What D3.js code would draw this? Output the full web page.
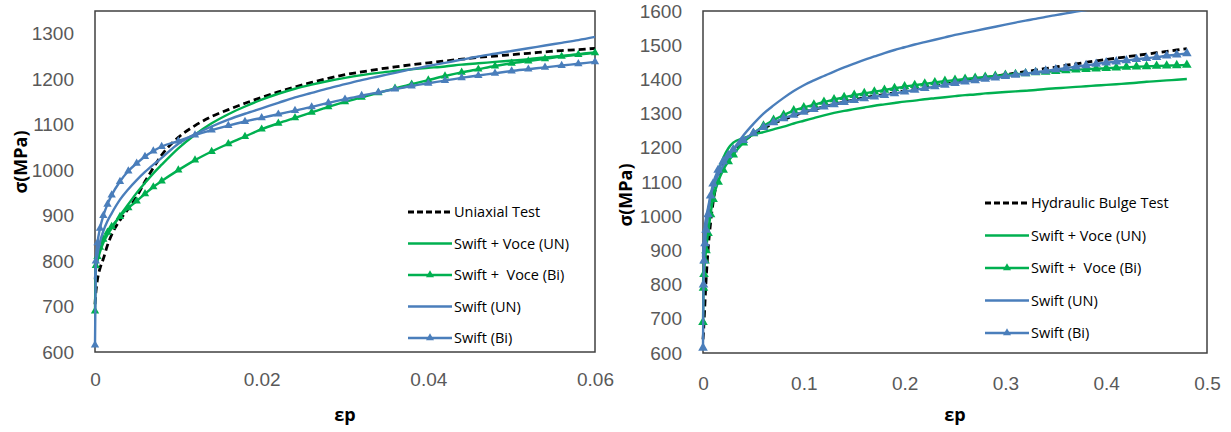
<!DOCTYPE html>
<html>
<head>
<meta charset="utf-8">
<script src="https://cdn.jsdelivr.net/npm/d3@7"></script>
<style>
  body { margin: 0; background: #fff; }
  svg { font-family: 'Open Sans', sans-serif; }
</style>
</head>
<body>
<script>
// ---- left panel: uniaxial test vs fitted laws ----
var epsUni = [0, 0.0001, 0.0003, 0.0006, 0.001, 0.0015, 0.002, 0.003, 0.004, 0.005, 0.006, 0.007, 0.008,
  0.010, 0.012, 0.014, 0.016, 0.018, 0.020, 0.022, 0.024, 0.026, 0.028, 0.030, 0.032, 0.034, 0.036,
  0.038, 0.040, 0.042, 0.044, 0.046, 0.048, 0.050, 0.052, 0.054, 0.056, 0.058, 0.060];
var uniTest = [705, 730, 760, 784, 805, 835, 858, 890, 915, 942, 975, 1005, 1033,
  1072, 1098, 1118, 1133, 1147, 1160, 1172, 1183, 1193, 1202, 1210, 1216, 1222, 1227,
  1232, 1236, 1240, 1244, 1248, 1251, 1254, 1257, 1260, 1263, 1265, 1268];
var uniSwiftVoceUN = [760, 780, 800, 820, 840, 858, 872, 900, 925, 950, 972, 993, 1012,
  1048, 1078, 1103, 1123, 1140, 1155, 1168, 1179, 1188, 1196, 1203, 1209, 1214, 1218,
  1222, 1225, 1228, 1232, 1235, 1238, 1241, 1244, 1248, 1251, 1255, 1259];
var uniSwiftVoceBi = [690, 790, 810, 830, 848, 863, 876, 898, 917, 932, 948, 963, 976,
  1000, 1022, 1041, 1058, 1074, 1090, 1103, 1115, 1127, 1139, 1150, 1160, 1170, 1180,
  1189, 1198, 1207, 1215, 1222, 1229, 1235, 1240, 1245, 1250, 1254, 1258];
var uniSwiftUN = [760, 790, 815, 842, 866, 888, 905, 935, 958, 978, 996, 1012, 1027,
  1058, 1079, 1096, 1111, 1124, 1136, 1148, 1160, 1170, 1180, 1189, 1198, 1206, 1214,
  1222, 1229, 1236, 1243, 1250, 1256, 1262, 1268, 1274, 1280, 1286, 1293];
var uniSwiftBi = [615, 800, 840, 872, 900, 925, 945, 975, 998, 1015, 1030, 1042, 1052,
  1064, 1077, 1088, 1098, 1107, 1115, 1123, 1131, 1139, 1148, 1156, 1164, 1171, 1178,
  1185, 1191, 1197, 1203, 1208, 1213, 1218, 1222, 1226, 1230, 1234, 1238];
var uniTicksX = [0, 0.02, 0.04, 0.06];
var uniTicksY = [600, 700, 800, 900, 1000, 1100, 1200, 1300];
var uniLegend = ['Uniaxial Test', 'Swift + Voce (UN)', 'Swift +  Voce (Bi)', 'Swift (UN)', 'Swift (Bi)'];

// ---- right panel: hydraulic bulge test vs fitted laws ----
var epsBulge = [0, 0.0005, 0.001, 0.002, 0.003, 0.005, 0.0075, 0.01, 0.015, 0.02, 0.025, 0.03,
  0.04, 0.05, 0.06, 0.07, 0.08, 0.09, 0.10, 0.11, 0.12, 0.13, 0.14, 0.15, 0.16, 0.17, 0.18, 0.19,
  0.20, 0.21, 0.22, 0.23, 0.24, 0.25, 0.26, 0.27, 0.28, 0.29, 0.30, 0.31, 0.32, 0.33, 0.34, 0.35,
  0.36, 0.37, 0.38, 0.39, 0.40, 0.41, 0.42, 0.43, 0.44, 0.45, 0.46, 0.47, 0.48];
var bulgeTest = [640, 660, 690, 750, 810, 900, 980, 1040, 1110, 1150, 1172, 1190,
  1218, 1240, 1257, 1271, 1283, 1294, 1304, 1312, 1320, 1327, 1334, 1340, 1346, 1351, 1356, 1361,
  1366, 1371, 1376, 1381, 1386, 1391, 1396, 1400, 1405, 1409, 1414, 1418, 1423, 1427, 1432, 1436,
  1441, 1445, 1450, 1454, 1458, 1462, 1466, 1470, 1474, 1478, 1482, 1486, 1490];
var bulgeSwiftVoceUN = [800, 840, 870, 910, 945, 1000, 1045, 1075, 1130, 1170, 1198, 1215,
  1228, 1238, 1246, 1254, 1262, 1271, 1279, 1287, 1295, 1302, 1308, 1313, 1318, 1323, 1327, 1331,
  1335, 1338, 1342, 1345, 1348, 1351, 1354, 1356, 1359, 1361, 1363, 1365, 1367, 1369, 1372, 1374,
  1376, 1378, 1380, 1382, 1384, 1386, 1388, 1390, 1393, 1395, 1397, 1399, 1401];
var bulgeSwiftVoceBi = [690, 790, 830, 870, 900, 950, 1005, 1050, 1100, 1135, 1160, 1180,
  1215, 1242, 1264, 1281, 1296, 1309, 1318, 1326, 1334, 1341, 1348, 1354, 1359, 1364, 1369, 1374,
  1379, 1383, 1387, 1391, 1395, 1398, 1401, 1404, 1407, 1410, 1413, 1415, 1417, 1420, 1422, 1424,
  1426, 1428, 1430, 1431, 1433, 1434, 1436, 1437, 1438, 1439, 1440, 1441, 1442];
var bulgeSwiftUN = [880, 920, 945, 975, 995, 1025, 1060, 1085, 1120, 1148, 1173, 1195,
  1236, 1270, 1300, 1324, 1346, 1366, 1383, 1397, 1410, 1423, 1435, 1446, 1457, 1467, 1477, 1486,
  1494, 1502, 1509, 1516, 1523, 1530, 1536, 1542, 1548, 1554, 1560, 1566, 1572, 1577, 1583, 1588,
  1593, 1598, 1603, 1608, 1613, 1618, 1623, 1627, 1632, 1636, 1641, 1645, 1650];
var bulgeSwiftBi = [615, 800, 870, 920, 960, 1005, 1060, 1095, 1135, 1160, 1178, 1195,
  1222, 1243, 1260, 1274, 1286, 1296, 1305, 1313, 1320, 1327, 1333, 1339, 1344, 1349, 1354, 1359,
  1364, 1369, 1374, 1379, 1384, 1389, 1393, 1397, 1401, 1405, 1409, 1413, 1417, 1421, 1425, 1429,
  1433, 1437, 1441, 1445, 1449, 1452, 1455, 1459, 1462, 1465, 1469, 1472, 1476];
var bulgeTicksX = [0, 0.1, 0.2, 0.3, 0.4, 0.5];
var bulgeTicksY = [600, 700, 800, 900, 1000, 1100, 1200, 1300, 1400, 1500, 1600];
var bulgeLegend = ['Hydraulic Bulge Test', 'Swift + Voce (UN)', 'Swift +  Voce (Bi)', 'Swift (UN)', 'Swift (Bi)'];

// line styles, same order for both panels
var GREEN = '#00b050', BLUE = '#4a7ebb';
var styles = [
  { color: '#000', dash: '7,4', marker: false },
  { color: GREEN, dash: null, marker: false },
  { color: GREEN, dash: null, marker: true },
  { color: BLUE, dash: null, marker: false },
  { color: BLUE, dash: null, marker: true }
];

var svg = d3.select('body').append('svg')
  .attr('width', 1231)
  .attr('height', 432);

function drawPanel(p) {
  var x = d3.scaleLinear().domain(p.xDomain).range([p.left, p.right]);
  var y = d3.scaleLinear().domain(p.yDomain).range([p.bottom, p.top]);
  var g = svg.append('g');

  g.append('clipPath').attr('id', p.id)
    .append('rect')
    .attr('x', p.left - 6).attr('y', p.top)
    .attr('width', p.right - p.left + 12).attr('height', p.bottom - p.top + 6);

  // axes, labels only
  var ax = g.append('g')
    .attr('transform', 'translate(0,' + p.bottom + ')')
    .call(d3.axisBottom(x).tickValues(p.ticksX).tickSize(0).tickPadding(p.padX).tickFormat(d3.format('')));
  var ay = g.append('g')
    .attr('transform', 'translate(' + p.left + ',0)')
    .call(d3.axisLeft(y).tickValues(p.ticksY).tickSize(0).tickPadding(21).tickFormat(d3.format('')));
  [ax, ay].forEach(function (a) {
    a.select('.domain').remove();
    a.selectAll('text').attr('fill', '#595959').style('font-size', '19px');
  });

  // plot frame
  g.append('rect')
    .attr('x', p.left).attr('y', p.top)
    .attr('width', p.right - p.left).attr('height', p.bottom - p.top)
    .attr('fill', 'none').attr('stroke', '#404040').attr('stroke-width', 1.5);

  var plot = g.append('g').attr('clip-path', 'url(#' + p.id + ')');
  p.series.forEach(function (vals, i) {
    var st = styles[i];
    var pts = p.eps.map(function (e, k) { return [e, vals[k]]; });
    var line = d3.line()
      .x(function (d) { return x(d[0]); })
      .y(function (d) { return y(d[1]); })
      .curve(d3.curveMonotoneX);
    plot.append('path')
      .datum(pts)
      .attr('d', line)
      .attr('fill', 'none')
      .attr('stroke', st.color)
      .attr('stroke-width', st.dash ? 2.8 : 2.4)
      .attr('stroke-dasharray', st.dash);
    if (st.marker) {
      plot.selectAll(null)
        .data(pts)
        .enter()
        .append('path')
        .attr('d', d3.symbol().type(d3.symbolTriangle).size(p.markSize))
        .attr('transform', function (d) { return 'translate(' + x(d[0]) + ',' + y(d[1]) + ')'; })
        .attr('fill', st.color);
    }
  });

  // axis titles
  g.append('text')
    .attr('x', (p.left + p.right) / 2).attr('y', 421)
    .attr('text-anchor', 'middle')
    .style('font-size', '18px').style('font-weight', 'bold')
    .text('εp');
  g.append('text')
    .attr('transform', 'translate(' + p.yTitleX + ',' + p.yTitleY + ') rotate(-90)')
    .attr('text-anchor', 'middle')
    .attr('dy', '0.35em')
    .style('font-size', '18px').style('font-weight', 'bold')
    .text('σ(MPa)');

  // legend
  var leg = g.append('g');
  p.legend.forEach(function (name, i) {
    var st = styles[i];
    var ly = p.legY + i * p.legStep;
    leg.append('line')
      .attr('x1', p.legX).attr('x2', p.legX + 44)
      .attr('y1', ly).attr('y2', ly)
      .attr('stroke', st.color)
      .attr('stroke-width', st.dash ? 2.8 : 2.4)
      .attr('stroke-dasharray', st.dash ? '6,3' : null);
    if (st.marker) {
      leg.append('path')
        .attr('d', d3.symbol().type(d3.symbolTriangle).size(28))
        .attr('transform', 'translate(' + (p.legX + 22) + ',' + ly + ')')
        .attr('fill', st.color);
    }
    leg.append('text')
      .attr('x', p.legX + 46).attr('y', ly)
      .attr('dy', '0.35em')
      .style('font-size', '14.5px')
      .style('white-space', 'pre')
      .text(name);
  });
}

drawPanel({
  id: 'clipUni', left: 95, right: 595, top: 11, bottom: 352,
  xDomain: [0, 0.06], yDomain: [600, 1350], ticksX: uniTicksX, ticksY: uniTicksY, padX: 21,
  eps: epsUni, series: [uniTest, uniSwiftVoceUN, uniSwiftVoceBi, uniSwiftUN, uniSwiftBi],
  legend: uniLegend, legX: 408, legY: 212, legStep: 31.5, yTitleX: 21, yTitleY: 162, markSize: 30
});

drawPanel({
  id: 'clipBulge', left: 703, right: 1207, top: 11, bottom: 353,
  xDomain: [0, 0.5], yDomain: [600, 1600], ticksX: bulgeTicksX, ticksY: bulgeTicksY, padX: 24,
  eps: epsBulge, series: [bulgeTest, bulgeSwiftVoceUN, bulgeSwiftVoceBi, bulgeSwiftUN, bulgeSwiftBi],
  legend: bulgeLegend, legX: 985, legY: 203, legStep: 32.5, yTitleX: 626, yTitleY: 195, markSize: 40
});
</script>
</body>
</html>
